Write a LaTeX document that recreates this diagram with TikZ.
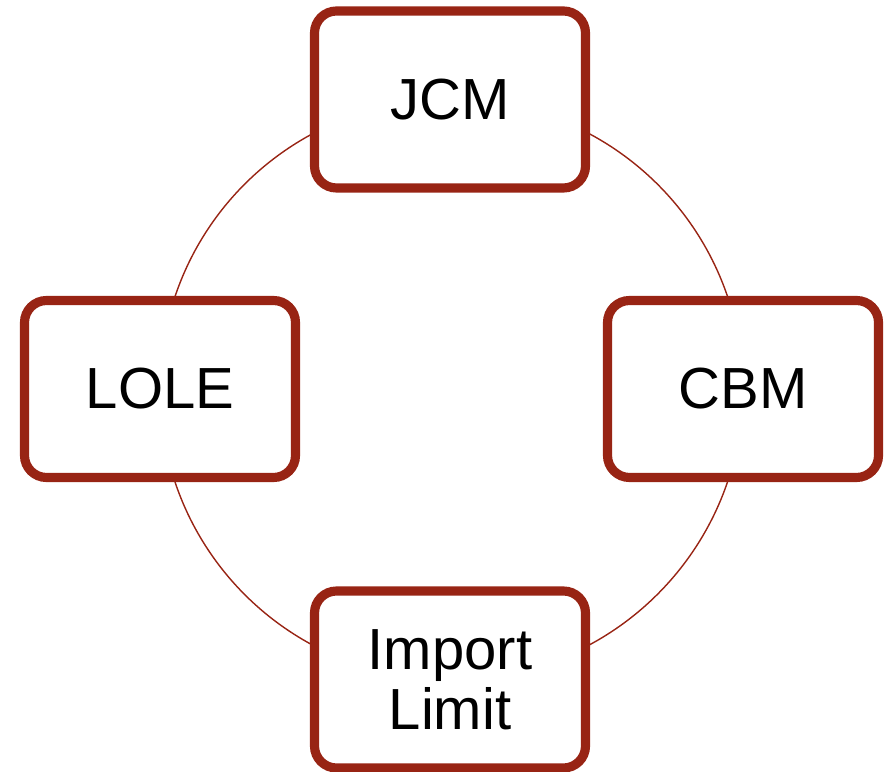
\documentclass[tikz,border=0pt]{standalone}
\usepackage{fontspec}
\setmainfont{Liberation Sans}
\usetikzlibrary{backgrounds}

\definecolor{boxred}{RGB}{152,36,20}

\tikzset{
	factor/.style={draw=boxred, line width=2.6pt, fill=white, rounded corners=0.22cm,
		minimum width=2.71cm, minimum height=1.77cm, align=center,
		font=\fontsize{16.5}{17}\selectfont},
	link/.style={draw=boxred, line width=0.4pt}
}

\begin{document}
\begin{tikzpicture}
		\useasboundingbox (0,0) rectangle (8.84,7.71);

		\node[factor] (jcm) at (4.50,6.715) {JCM};
		\node[factor] (cbm) at (7.43,3.82) {CBM};
		\node[factor] (imp) at (4.50,0.915) {Import\\Limit};
		\node[factor] (lole) at (1.60,3.82) {LOLE};

		% ring through the four boxes
		\begin{scope}[on background layer]
			\draw[link] (jcm.center) to[bend left=45] (cbm.center);
			\draw[link] (cbm.center) to[bend left=45] (imp.center);
			\draw[link] (imp.center) to[bend left=45] (lole.center);
			\draw[link] (lole.center) to[bend left=45] (jcm.center);
		\end{scope}

	\end{tikzpicture}
\end{document}
